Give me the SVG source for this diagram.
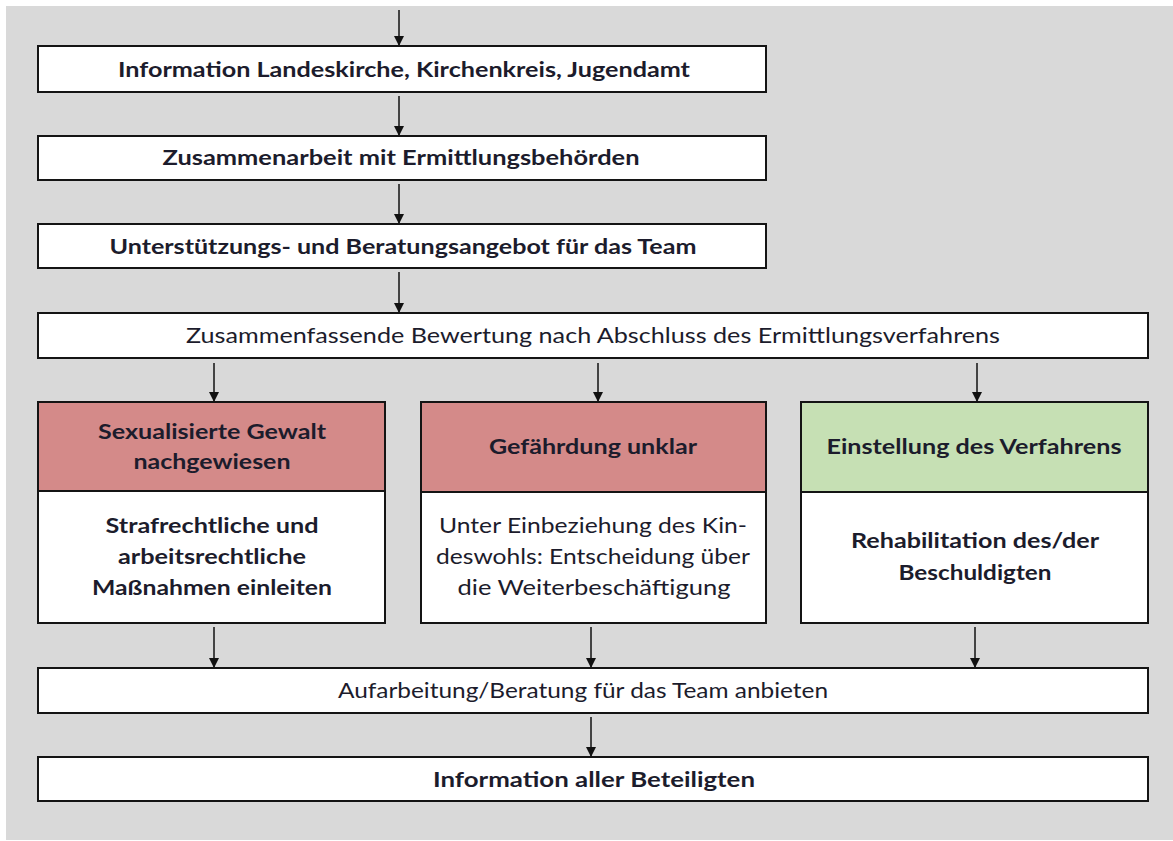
<svg xmlns="http://www.w3.org/2000/svg" width="1173" height="841" viewBox="0 0 1173 841">
  <style>
    .box { fill: #ffffff; stroke: #141414; stroke-width: 2; }
    .red { fill: #d48a89; stroke: #141414; stroke-width: 2; }
    .green { fill: #c6e0b4; stroke: #141414; stroke-width: 2; }
    .t { font-family: Lato, "Open Sans", "Liberation Sans", sans-serif; font-size: 21px; fill: #1c1c2c; text-anchor: middle; }
    .b { font-weight: bold; }
    .edge { stroke: #1e1e1e; stroke-width: 1.6; fill: none; marker-end: url(#head); }
  </style>
  <defs>
    <marker id="head" viewBox="0 0 10 10" refX="10" refY="5" markerWidth="10" markerHeight="10" markerUnits="userSpaceOnUse" orient="auto">
      <path d="M0,0 L10,5 L0,10 Z" fill="#111"/>
    </marker>
  </defs>

  <!-- page background -->
  <rect x="0" y="0" width="1173" height="841" fill="#ffffff"/>
  <rect x="6" y="6" width="1167" height="834" fill="#d9d9d9"/>

  <!-- connectors -->
  <g id="connectors">
    <line class="edge" x1="399" y1="10" x2="399" y2="46"/>
    <line class="edge" x1="399" y1="96" x2="399" y2="136"/>
    <line class="edge" x1="399" y1="184" x2="399" y2="224"/>
    <line class="edge" x1="399" y1="272" x2="399" y2="313"/>
    <line class="edge" x1="214" y1="363" x2="214" y2="402"/>
    <line class="edge" x1="598" y1="363" x2="598" y2="402"/>
    <line class="edge" x1="977" y1="363" x2="977" y2="402"/>
    <line class="edge" x1="214" y1="627" x2="214" y2="668"/>
    <line class="edge" x1="591" y1="627" x2="591" y2="668"/>
    <line class="edge" x1="975" y1="627" x2="975" y2="668"/>
    <line class="edge" x1="591" y1="717" x2="591" y2="757"/>
  </g>

  <g id="info-landeskirche">
    <rect class="box" x="38" y="46" width="728" height="46"/>
    <text class="t b" x="404" y="77" textLength="572" lengthAdjust="spacingAndGlyphs">Information Landeskirche, Kirchenkreis, Jugendamt</text>
  </g>

  <g id="zusammenarbeit">
    <rect class="box" x="38" y="136" width="728" height="44"/>
    <text class="t b" x="401" y="165" textLength="477" lengthAdjust="spacingAndGlyphs">Zusammenarbeit mit Ermittlungsbehörden</text>
  </g>

  <g id="unterstuetzung">
    <rect class="box" x="38" y="224" width="728" height="44"/>
    <text class="t b" x="403" y="254" textLength="587" lengthAdjust="spacingAndGlyphs">Unterstützungs- und Beratungsangebot für das Team</text>
  </g>

  <g id="bewertung">
    <rect class="box" x="38" y="313" width="1110" height="45"/>
    <text class="t" x="593" y="343" textLength="814" lengthAdjust="spacingAndGlyphs">Zusammenfassende Bewertung nach Abschluss des Ermittlungsverfahrens</text>
  </g>

  <g id="gewalt-nachgewiesen">
    <rect class="red" x="38" y="402" width="347" height="89"/>
    <rect class="box" x="38" y="491" width="347" height="132"/>
    <text class="t b" x="212" y="439" textLength="228" lengthAdjust="spacingAndGlyphs">Sexualisierte Gewalt</text>
    <text class="t b" x="212" y="469" textLength="157" lengthAdjust="spacingAndGlyphs">nachgewiesen</text>
    <text class="t b" x="212" y="533" textLength="213" lengthAdjust="spacingAndGlyphs">Strafrechtliche und</text>
    <text class="t b" x="212" y="564" textLength="188" lengthAdjust="spacingAndGlyphs">arbeitsrechtliche</text>
    <text class="t b" x="212" y="595" textLength="240" lengthAdjust="spacingAndGlyphs">Maßnahmen einleiten</text>
  </g>

  <g id="gefaehrdung-unklar">
    <rect class="red" x="421" y="402" width="345" height="90"/>
    <rect class="box" x="421" y="492" width="345" height="131"/>
    <text class="t b" x="593" y="454" textLength="208" lengthAdjust="spacingAndGlyphs">Gefährdung unklar</text>
    <text class="t" x="593" y="533" textLength="308" lengthAdjust="spacingAndGlyphs">Unter Einbeziehung des Kin-</text>
    <text class="t" x="593" y="564" textLength="314" lengthAdjust="spacingAndGlyphs">deswohls: Entscheidung über</text>
    <text class="t" x="594" y="595" textLength="273" lengthAdjust="spacingAndGlyphs">die Weiterbeschäftigung</text>
  </g>

  <g id="einstellung">
    <rect class="green" x="801" y="402" width="347" height="90"/>
    <rect class="box" x="801" y="492" width="347" height="131"/>
    <text class="t b" x="974" y="454" textLength="295" lengthAdjust="spacingAndGlyphs">Einstellung des Verfahrens</text>
    <text class="t b" x="975" y="548" textLength="248" lengthAdjust="spacingAndGlyphs">Rehabilitation des/der</text>
    <text class="t b" x="975" y="580" textLength="153" lengthAdjust="spacingAndGlyphs">Beschuldigten</text>
  </g>

  <g id="aufarbeitung">
    <rect class="box" x="38" y="668" width="1110" height="45"/>
    <text class="t" x="583" y="698" textLength="490" lengthAdjust="spacingAndGlyphs">Aufarbeitung/Beratung für das Team anbieten</text>
  </g>

  <g id="information-beteiligte">
    <rect class="box" x="38" y="757" width="1110" height="44"/>
    <text class="t b" x="594" y="787" textLength="322" lengthAdjust="spacingAndGlyphs">Information aller Beteiligten</text>
  </g>
</svg>
